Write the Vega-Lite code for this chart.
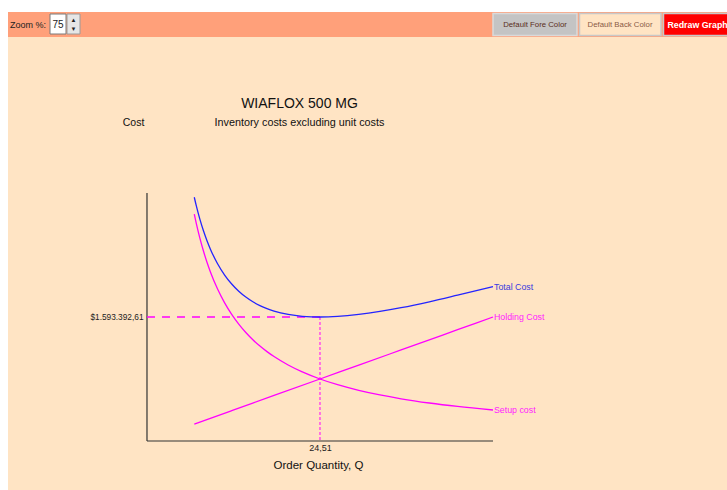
{
  "$schema": "https://vega.github.io/schema/vega-lite/v6.json",
  "background": "white",
  "padding": {"left": 8, "top": 12, "right": 0, "bottom": 0},
  "spacing": 0,
  "bounds": "flush",
  "config": {
    "view": {"stroke": null},
    "font": "Liberation Sans, Arial, sans-serif"
  },
  "datasets": {
    "curves": [
      {"Q": 6.7, "cost": 3132264.7, "series": "Total Cost"},
      {"Q": 7, "cost": 3017109.8, "series": "Total Cost"},
      {"Q": 7.5, "cost": 2847390.6, "series": "Total Cost"},
      {"Q": 8, "cost": 2700917.9, "series": "Total Cost"},
      {"Q": 8.5, "cost": 2573589.3, "series": "Total Cost"},
      {"Q": 9, "cost": 2462214.2, "series": "Total Cost"},
      {"Q": 10, "cost": 2277752.1, "series": "Total Cost"},
      {"Q": 11, "cost": 2132738.7, "series": "Total Cost"},
      {"Q": 12, "cost": 2017311.6, "series": "Total Cost"},
      {"Q": 13, "cost": 1924643.4, "series": "Total Cost"},
      {"Q": 14, "cost": 1849856.9, "series": "Total Cost"},
      {"Q": 15, "cost": 1789376.0, "series": "Total Cost"},
      {"Q": 16, "cost": 1740518.3, "series": "Total Cost"},
      {"Q": 17, "cost": 1701232.8, "series": "Total Cost"},
      {"Q": 18, "cost": 1669923.9, "series": "Total Cost"},
      {"Q": 20, "cost": 1626450.3, "series": "Total Cost"},
      {"Q": 22, "cost": 1602701.0, "series": "Total Cost"},
      {"Q": 24.51, "cost": 1593392.6, "series": "Total Cost"},
      {"Q": 27, "cost": 1600856.9, "series": "Total Cost"},
      {"Q": 30, "cost": 1626049.4, "series": "Total Cost"},
      {"Q": 33, "cost": 1664391.5, "series": "Total Cost"},
      {"Q": 36, "cost": 1712595.6, "series": "Total Cost"},
      {"Q": 40, "cost": 1788373.7, "series": "Total Cost"},
      {"Q": 44, "cost": 1874013.8, "series": "Total Cost"},
      {"Q": 49.02, "cost": 1985000.0, "series": "Total Cost"},
      {"Q": 6.7, "cost": 217783.2, "series": "Holding Cost"},
      {"Q": 12, "cost": 390059.4, "series": "Holding Cost"},
      {"Q": 18, "cost": 585089.1, "series": "Holding Cost"},
      {"Q": 24.51, "cost": 796696.3, "series": "Holding Cost"},
      {"Q": 30, "cost": 975148.5, "series": "Holding Cost"},
      {"Q": 36, "cost": 1170178.2, "series": "Holding Cost"},
      {"Q": 44, "cost": 1430217.8, "series": "Holding Cost"},
      {"Q": 49.02, "cost": 1593392.6, "series": "Holding Cost"},
      {"Q": 6.7, "cost": 2914481.5, "series": "Setup cost"},
      {"Q": 7, "cost": 2789575.1, "series": "Setup cost"},
      {"Q": 7.5, "cost": 2603603.5, "series": "Setup cost"},
      {"Q": 8, "cost": 2440878.3, "series": "Setup cost"},
      {"Q": 8.5, "cost": 2297297.2, "series": "Setup cost"},
      {"Q": 9, "cost": 2169669.6, "series": "Setup cost"},
      {"Q": 10, "cost": 1952702.6, "series": "Setup cost"},
      {"Q": 11, "cost": 1775184.2, "series": "Setup cost"},
      {"Q": 12, "cost": 1627252.2, "series": "Setup cost"},
      {"Q": 13, "cost": 1502079.0, "series": "Setup cost"},
      {"Q": 14, "cost": 1394787.6, "series": "Setup cost"},
      {"Q": 15, "cost": 1301801.7, "series": "Setup cost"},
      {"Q": 16, "cost": 1220439.1, "series": "Setup cost"},
      {"Q": 17, "cost": 1148648.6, "series": "Setup cost"},
      {"Q": 18, "cost": 1084834.8, "series": "Setup cost"},
      {"Q": 20, "cost": 976351.3, "series": "Setup cost"},
      {"Q": 22, "cost": 887592.1, "series": "Setup cost"},
      {"Q": 24.51, "cost": 796696.3, "series": "Setup cost"},
      {"Q": 27, "cost": 723223.2, "series": "Setup cost"},
      {"Q": 30, "cost": 650900.9, "series": "Setup cost"},
      {"Q": 33, "cost": 591728.1, "series": "Setup cost"},
      {"Q": 36, "cost": 542417.4, "series": "Setup cost"},
      {"Q": 40, "cost": 488175.7, "series": "Setup cost"},
      {"Q": 44, "cost": 443796.0, "series": "Setup cost"},
      {"Q": 49.02, "cost": 398348.1, "series": "Setup cost"}
    ],
    "axislines": [
      {"x": 0, "x2": 0, "y": 0, "y2": 3186785.22},
      {"x": 0, "x2": 49.02, "y": 0, "y2": 0}
    ],
    "optimum": [
      {"Q0": 0, "Q": 24.51, "c0": 0, "cost": 1593392.61}
    ],
    "toolbar": [
      {"item": "bar"}
    ]
  },
  "vconcat": [
    {
      "width": 719,
      "height": 25,
      "view": {"fill": "#FFA07A", "stroke": null},
      "data": {"name": "toolbar"},
      "layer": [
        {
          "mark": {"type": "text", "text": "Zoom %:", "align": "left", "baseline": "middle", "fontSize": 9, "color": "#222"},
          "encoding": {
            "x": {"datum": 10, "type": "quantitative", "scale": {"domain": [8, 727], "nice": false, "zero": false}, "axis": null},
            "y": {"datum": 24.5, "type": "quantitative", "scale": {"domain": [12, 37], "nice": false, "zero": false, "reverse": true}, "axis": null}
          }
        },
        {
          "mark": {"type": "rect", "fill": "white", "stroke": "#7A7A7A", "strokeWidth": 1},
          "encoding": {"x": {"datum": 50, "type": "quantitative"}, "x2": {"datum": 66}, "y": {"datum": 14, "type": "quantitative"}, "y2": {"datum": 34}}
        },
        {
          "mark": {"type": "text", "text": "75", "align": "left", "baseline": "middle", "fontSize": 10, "color": "#222"},
          "encoding": {"x": {"datum": 52.5, "type": "quantitative"}, "y": {"datum": 24.5, "type": "quantitative"}}
        },
        {
          "mark": {"type": "rect", "fill": "#E6E6E6", "stroke": "#9A9A9A", "strokeWidth": 1},
          "encoding": {"x": {"datum": 67, "type": "quantitative"}, "x2": {"datum": 80}, "y": {"datum": 14, "type": "quantitative"}, "y2": {"datum": 34}}
        },
        {
          "mark": {"type": "text", "text": "▲", "align": "center", "baseline": "middle", "fontSize": 6, "color": "#222"},
          "encoding": {"x": {"datum": 73.5, "type": "quantitative"}, "y": {"datum": 20, "type": "quantitative"}}
        },
        {
          "mark": {"type": "text", "text": "▼", "align": "center", "baseline": "middle", "fontSize": 6, "color": "#222"},
          "encoding": {"x": {"datum": 73.5, "type": "quantitative"}, "y": {"datum": 29, "type": "quantitative"}}
        },
        {
          "mark": {"type": "rect", "fill": "#C4C4C4", "stroke": "#DADADA", "strokeWidth": 1.5},
          "encoding": {"x": {"datum": 493, "type": "quantitative"}, "x2": {"datum": 577}, "y": {"datum": 13.5, "type": "quantitative"}, "y2": {"datum": 35.5}}
        },
        {
          "mark": {"type": "text", "text": "Default Fore Color", "align": "center", "baseline": "middle", "fontSize": 7.8, "color": "#5A2E22"},
          "encoding": {"x": {"datum": 535, "type": "quantitative"}, "y": {"datum": 24.5, "type": "quantitative"}}
        },
        {
          "mark": {"type": "rect", "fill": "#FFE4C4", "stroke": "#C8C8C8", "strokeWidth": 1.5},
          "encoding": {"x": {"datum": 579.5, "type": "quantitative"}, "x2": {"datum": 661}, "y": {"datum": 13.5, "type": "quantitative"}, "y2": {"datum": 35.5}}
        },
        {
          "mark": {"type": "text", "text": "Default Back Color", "align": "center", "baseline": "middle", "fontSize": 7.8, "color": "#8A5A44"},
          "encoding": {"x": {"datum": 620, "type": "quantitative"}, "y": {"datum": 24.5, "type": "quantitative"}}
        },
        {
          "mark": {"type": "rect", "fill": "#FF0000", "stroke": "#C8C8C8", "strokeWidth": 1.5, "clip": true},
          "encoding": {"x": {"datum": 663.5, "type": "quantitative"}, "x2": {"datum": 740}, "y": {"datum": 13.5, "type": "quantitative"}, "y2": {"datum": 35.5}}
        },
        {
          "mark": {"type": "text", "text": "Redraw Graph", "align": "left", "baseline": "middle", "fontSize": 8.8, "fontWeight": "bold", "color": "white", "clip": true},
          "encoding": {"x": {"datum": 667.5, "type": "quantitative"}, "y": {"datum": 24.5, "type": "quantitative"}}
        }
      ]
    },
    {
      "width": 719,
      "height": 453,
      "view": {"fill": "#FFE4C4", "stroke": null},
      "title": {
        "text": "WIAFLOX 500 MG",
        "subtitle": "Inventory costs excluding unit costs",
        "anchor": "middle",
        "frame": "group",
        "offset": -91,
        "dx": -68,
        "fontSize": 14,
        "fontWeight": "normal",
        "color": "#111",
        "subtitleFontSize": 10.8,
        "subtitleColor": "#111",
        "subtitlePadding": 6
      },
      "layer": [
        {
          "data": {"name": "axislines"},
          "mark": {"type": "rule", "color": "#333", "strokeWidth": 1.2},
          "encoding": {
            "x": {
              "field": "x", "type": "quantitative",
              "scale": {"domain": [-19.69, 82.17], "nice": false, "zero": false},
              "axis": {
                "orient": "bottom", "values": [24.51], "labelExpr": "'24,51'",
                "domain": false, "ticks": false, "grid": false, "offset": -49,
                "labelPadding": 2, "labelFontSize": 9, "labelColor": "#222",
                "title": "Order Quantity, Q", "titleFontSize": 11.5, "titleFontWeight": "normal", "titleColor": "#111",
                "titleX": 310, "titleY": 24, "titleAlign": "center", "titleBaseline": "middle"
              }
            },
            "x2": {"field": "x2"},
            "y": {
              "field": "y", "type": "quantitative",
              "scale": {"domain": [-629660, 5191460], "nice": false, "zero": false},
              "axis": {
                "orient": "left", "values": [1593392.61], "labelExpr": "'$1.593.392,61'",
                "domain": false, "ticks": false, "grid": false, "offset": -139,
                "labelPadding": 4, "labelFontSize": 8.3, "labelColor": "#222",
                "title": "Cost", "titleAngle": 0, "titleFontSize": 10.5, "titleFontWeight": "normal", "titleColor": "#111",
                "titleX": -14, "titleY": 85, "titleAlign": "center", "titleBaseline": "middle"
              }
            },
            "y2": {"field": "y2"}
          }
        },
        {
          "data": {"name": "optimum"},
          "mark": {"type": "rule", "color": "#FF00FF", "strokeWidth": 1.5, "strokeDash": [8, 7]},
          "encoding": {
            "x": {"field": "Q0", "type": "quantitative"},
            "x2": {"field": "Q"},
            "y": {"field": "cost", "type": "quantitative"}
          }
        },
        {
          "data": {"name": "optimum"},
          "mark": {"type": "rule", "color": "#FF00FF", "strokeWidth": 1, "strokeDash": [3, 2]},
          "encoding": {
            "x": {"field": "Q", "type": "quantitative"},
            "y": {"field": "cost", "type": "quantitative"},
            "y2": {"field": "c0"}
          }
        },
        {
          "data": {"name": "curves"},
          "mark": {"type": "line", "interpolate": "monotone", "strokeWidth": 1.3},
          "encoding": {
            "x": {"field": "Q", "type": "quantitative"},
            "y": {"field": "cost", "type": "quantitative"},
            "color": {
              "field": "series", "type": "nominal",
              "scale": {"domain": ["Total Cost", "Holding Cost", "Setup cost"], "range": ["#2424FF", "#FF00FF", "#FF00FF"]},
              "legend": null
            },
            "detail": {"field": "series", "type": "nominal"}
          }
        },
        {
          "data": {"name": "curves"},
          "transform": [{"filter": "datum.Q == 49.02"}],
          "mark": {"type": "text", "align": "left", "baseline": "middle", "dx": 1, "fontSize": 8.8},
          "encoding": {
            "x": {"field": "Q", "type": "quantitative"},
            "y": {"field": "cost", "type": "quantitative"},
            "text": {"field": "series", "type": "nominal"},
            "color": {
              "field": "series", "type": "nominal",
              "scale": {"domain": ["Total Cost", "Holding Cost", "Setup cost"], "range": ["#3A3ADF", "#FF22FF", "#FF22FF"]},
              "legend": null
            }
          }
        }
      ],
      "resolve": {"scale": {"color": "independent"}}
    }
  ]
}
